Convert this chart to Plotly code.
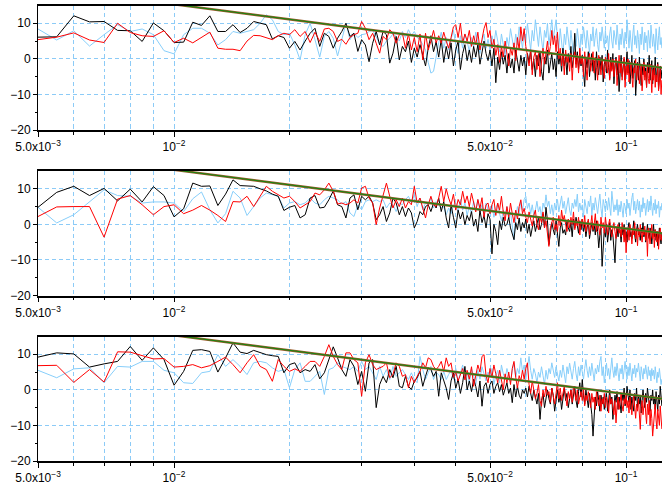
import plotly.graph_objects as go

# Spectral estimates at frequencies k/2000 (k = 10 .. 240), in dB
record_length = 2000
freq = [k / record_length for k in range(10, 241)]

# ---------------- panel 1 ----------------
p1_black = [
    6.1, 6.2, 12.1, 10.4, 10.5, 8.0, 7.9, 4.9, 10.1, 7.9,
    4.6, 4.7, 10.3, 9.4, 12.1, 7.7, 7.7, 9.6, 7.4, 8.6,
    10.5, 10.0, 9.6, 5.6, 6.5, 6.0, 3.0, 4.9, 2.5, 5.0,
    7.2, 8.6, 3.5, 7.2, 6.3, 3.0, 5.8, 7.7, 10.0, 6.3,
    7.2, 2.1, 5.4, 3.9, -0.8, 4.4, 7.7, 3.9, 7.7, 6.8,
    -1.2, 1.6, 6.3, -0.3, 3.5, 2.0, 5.0, -1.0, 3.0, 0.5,
    4.0, 1.0, -2.0, 3.0, 6.5, 2.0, 4.8, 0.5, 5.5, -1.0,
    3.5, 0.0, 4.5, -2.0, 2.5, 5.0, -3.0, 1.5, 4.0, -0.5,
    2.5, -1.0, 3.5, 0.5, 4.0, -1.5, 2.0, 5.0, 1.5, -0.5,
    2.5, -2.0, 3.0, -6.7, 0.5, -3.0, 2.0, -1.5, 1.0, -4.0,
    1.5, -2.5, 0.0, -4.0, 2.5, -1.0, -3.5, 1.0, -2.0, 0.5,
    -4.5, 1.5, -1.0, 2.5, -3.0, 0.0, -5.0, 1.0, -2.0, 2.0,
    -3.5, -6.0, 0.5, -1.5, 2.5, -4.0, -0.5, 1.5, -3.0, 0.0,
    -5.0, 2.0, -1.5, 1.0, -3.5, 3.0, -2.0, 0.5, -4.5, 1.5,
    -1.0, 3.5, -2.5, 0.0, 7.2, -1.5, 2.0, -3.0, 0.5, -2.0,
    1.0, -4.0, -7.8, 0.0, -2.5, 2.0, -5.0, -1.0, 1.5, -3.5,
    -0.5, -6.0, 2.0, -2.0, -4.5, 0.5, -3.0, 1.0, -6.5, -1.5,
    0.0, -4.0, 2.5, -2.5, -5.5, 0.5, -3.0, 1.5, -7.0, -2.0,
    0.5, -4.5, -1.0, -9.2, -3.0, 1.0, -5.0, -2.0, 0.0, -6.0,
    -1.5, 2.0, -4.0, -0.5, -7.0, -2.5, 1.0, -5.5, -3.0, -0.5,
    -10.3, -4.0, -1.0, -6.0, 0.5, -3.5, -7.5, -2.0, -4.5, 0.0,
    -5.0, -2.5, -8.0, -1.0, -4.0, 1.0, -6.0, -3.0, -0.5, -7.0,
    -2.0, -4.5, 0.5, -6.5, -3.0, -1.0, -8.5, -4.0, -2.0, -5.5,
    -3.0,
]
p1_red = [
    5.4, 6.1, 7.3, 5.3, 4.6, 10.0, 7.4, 6.5, 6.3, 7.9,
    4.6, 5.8, 4.5, 6.1, 7.5, 3.0, 2.7, 2.7, 2.3, 5.0,
    6.6, 6.5, 6.0, 5.4, 6.5, 7.2, 6.8, 8.2, 6.3, 7.7,
    4.6, 7.5, 4.9, 8.4, 8.6, 7.7, 4.9, 5.5, 4.1, 6.0,
    6.8, 7.2, 10.5, 8.6, 5.4, 7.2, 4.4, 1.6, 6.3, 5.4,
    8.2, 7.2, 4.4, 6.8, 7.2, 3.0, 7.0, 2.5, 6.0, 2.0,
    7.0, -0.3, 7.2, 2.5, 5.0, 8.0, 4.5, 6.5, 4.4, 7.5,
    5.0, 3.0, 6.0, 9.0, 9.6, 6.0, 10.0, 4.5, 7.0, 5.0,
    8.0, 3.5, 6.5, 4.0, 7.5, 2.5, 5.5, 8.5, 10.2, 6.0,
    8.0, 3.0, 5.5, 1.0, 4.0, -1.0, 3.5, 0.5, 5.0, 2.0,
    -2.0, 3.0, 1.0, 4.5, -0.5, 6.0, 2.5, 9.0, 5.0, 8.5,
    3.5, 1.0, -2.0, 2.5, -4.5, 0.5, 2.0, -3.0, 1.5, -5.0,
    0.0, 3.0, -1.5, 2.0, 5.0, 1.0, 3.5, 8.0, 4.0, 6.5,
    2.0, 7.5, 0.0, 3.0, -2.0, 1.5, -4.5, 2.5, -1.0, 0.5,
    -3.5, 1.5, -6.0, 0.0, 2.0, -2.5, 1.0, -4.0, 3.0, -1.5,
    0.5, -5.0, 2.0, -2.0, -6.0, 0.0, 1.5, -3.5, -1.0, 2.0,
    -4.0, 0.5, -2.5, -6.0, 1.0, -1.5, -4.5, 0.0, -3.0, -5.5,
    0.5, -2.0, -4.0, 1.5, -6.0, -1.0, -3.5, 0.0, -5.0, -2.0,
    0.0, -7.5, -2.5, 1.0, -4.0, -1.0, -6.0, -3.0, 0.5, -8.0,
    -2.0, -4.5, 0.0, -6.5, -3.0, -1.0, -5.0, -8.0, -2.5, -4.0,
    0.0, -6.0, -3.0, -1.5, -7.0, -4.0, -2.0, -9.0, -5.0, -1.0,
    -6.0, -3.5, -8.0, -2.0, -5.5, -7.0, -1.5, -4.0, -9.5, -3.0,
    -6.0, -2.0, -8.0, -4.5, -6.5, -1.5, -9.0, -5.0, -3.0, -10.0,
    -6.0,
]
p1_blue = [
    8.4, 5.3, 7.9, 3.6, 6.8, 9.6, 7.7, 8.4, 6.8, 2.3,
    1.4, 6.8, 8.6, 8.6, 7.2, 3.9, 5.4, 7.7, 7.2, 7.7,
    8.2, 10.0, 12.4, 11.0, 7.7, 6.8, 7.2, 3.9, -0.3, 6.8,
    10.0, 5.4, 0.5, 6.3, 7.7, 5.8, 0.8, 5.4, 10.0, 5.4,
    7.2, 6.0, 6.8, 7.0, 7.7, 8.0, 6.3, 4.0, 3.5, 5.0,
    5.8, 7.0, 6.3, 5.0, 7.7, 6.0, 8.2, 6.5, 7.7, 6.0,
    5.4, 4.0, 2.5, -1.0, -4.0, -3.5, 1.0, 4.5, 7.5, 3.0,
    6.0, 2.5, 5.5, 8.0, 4.0, 1.5, 6.5, 3.0, 7.0, 5.0,
    2.0, 6.0, 3.5, 7.5, 4.5, 1.5, 5.0, 7.0, 3.0, 5.5,
    2.5, 6.5, 4.0, 8.0, 5.0, 2.0, 7.0, 4.5, 1.0, 6.0,
    3.5, 8.5, 5.0, 2.5, 7.0, 4.0, 9.0, 6.0, 3.0, 7.5,
    4.5, 10.0, 6.5, 2.5, 8.0, 5.0, 11.0, 7.0, 3.5, 9.0,
    5.5, 2.0, 8.0, 6.0, 10.0, 4.0, 7.5, 11.0, 5.5, 8.0,
    11.0, 6.0, 3.0, 8.5, 5.0, 1.0, 7.0, 4.0, 9.0, 6.0,
    2.5, 8.0, 5.0, 0.7, 6.5, 3.5, 8.5, 5.5, 2.0, 7.0,
    4.0, 9.0, 6.0, 3.0, 8.0, 4.5, 1.5, 7.0, 5.0, 9.0,
    3.5, 6.5, 8.5, 4.0, 2.0, 7.5, 5.0, 9.0, 6.0, 3.0,
    8.0, 4.5, 6.5, 2.5, 7.0, 9.0, 5.0, 3.0, 8.0, 6.0,
    4.0, 9.5, 5.5, 2.5, 7.0, 4.0, 8.5, 6.0, 3.0, 7.5,
    5.0, 11.0, 6.5, 3.0, 8.0, 5.0, 2.0, 7.0, 9.5, 4.0,
    6.5, 3.0, 8.0, 5.5, 1.5, 7.0, 4.0, 9.0, 5.5, 2.5,
    7.5, 4.5, 6.5, 2.0, 8.0, 5.0, 3.0, 9.5, 6.0, 3.5,
    7.0, 4.0, 1.5, 8.5, 5.0, 2.5, 6.5, 9.0, 4.0, 6.0,
    3.0,
]

# ---------------- panel 2 ----------------
p2_black = [
    4.8, 9.0, 10.7, 8.1, 10.1, 6.6, 9.9, 6.3, 10.6, 8.1,
    2.1, 4.4, 11.6, 10.7, 10.8, 5.3, 8.5, 12.5, 10.9, 10.7,
    10.7, 10.0, 9.4, 8.5, 7.9, 3.9, 4.8, 5.3, 1.8, 2.7,
    7.4, 8.1, 4.6, 4.8, 6.9, 9.4, 5.5, 5.0, 1.8, 7.4,
    8.3, 4.1, 7.9, 6.9, 7.9, 6.0, 1.3, 2.7, 5.0, 0.8,
    3.2, 7.4, 6.0, 2.7, 5.0, 2.2, 4.6, 3.2, -1.0, 0.8,
    3.6, 2.7, 5.0, 5.5, 3.6, 6.0, 4.6, 7.4, 3.6, 6.4,
    1.8, -1.0, 5.5, 2.0, -1.0, 4.0, 1.5, 3.5, -0.1, 2.5,
    1.0, 3.6, -0.5, 1.5, -2.0, 4.0, 0.5, 2.5, -1.0, 3.0,
    1.5, -8.3, 0.0, -2.0, -5.7, 1.0, -1.5, 2.0, -0.5, 0.0,
    2.0, -1.0, -3.0, -4.3, 0.5, -1.5, 1.8, -2.0, 0.5, -1.0,
    1.5, -2.5, 0.0, -3.4, -1.0, 1.0, -2.0, 0.0, 2.0, -1.5,
    0.0, 3.0, -1.0, 4.8, 1.0, -5.7, -2.0, 0.5, -1.5, -3.0,
    1.0, -2.0, -6.2, -1.0, 0.5, -2.5, -1.5, -3.0, 1.0, -1.0,
    -2.0, 0.5, -3.5, 1.5, -1.0, 2.0, 0.0, -2.5, 1.0, -1.5,
    1.5, -2.0, 0.0, -3.5, -1.0, 1.0, -4.0, -1.5, 0.5, -2.0,
    0.0, -3.0, 1.0, -2.0, -6.6, -3.0, -1.0, -11.8, -4.0, -1.5,
    -3.5, 0.0, -5.0, -2.0, 0.5, -4.5, -1.5, -3.0, -6.0, -10.8,
    -4.0, -1.0, -3.5, 0.5, -2.0, -5.0, -1.0, -3.0, 0.0, -4.5,
    -2.0, -5.0, -1.0, 0.5, -3.5, -2.0, -4.0, -1.0, 1.0, -3.0,
    -5.0, -1.5, 0.0, -3.0, -2.0, -4.5, -1.0, -2.5, 0.5, -3.5,
    -1.5, -5.0, -2.0, 0.0, -3.0, -4.0, -1.0, -2.5, -5.5, -2.0,
    0.0, -3.5, -1.5, -4.5, -2.0, -6.0, -3.0, -1.0, -4.0, -5.5,
    -2.5,
]
p2_red = [
    2.2, 4.9, 5.0, 5.0, -3.6, 7.1, 8.1, 5.5, 2.7, 5.0,
    5.5, 3.0, 4.0, 5.3, 4.0, 2.5, 0.8, 6.4, 6.3, 7.9,
    5.0, 7.9, 10.7, 9.3, 8.3, 7.4, 7.9, 6.4, 4.6, 5.5,
    6.4, 8.8, 8.3, 9.7, 11.6, 9.3, 5.7, 6.0, 5.5, 6.0,
    6.9, 6.0, 10.2, 10.7, 7.4, 6.0, -0.1, 4.6, 8.3, 11.6,
    7.9, 4.6, 6.9, 5.0, 7.4, 4.6, 6.4, 5.5, 10.7, 6.0,
    7.4, 4.6, 1.8, 5.5, 7.9, 5.5, 5.0, 7.4, 10.7, 6.4,
    10.0, 7.4, 5.5, 8.5, 4.0, 7.0, 5.5, 9.3, 6.0, 8.0,
    5.0, 8.8, 6.5, 3.5, 7.0, 4.5, 7.5, 2.0, 5.5, 6.0,
    3.0, 5.5, 7.0, 2.5, 6.0, 4.0, 7.9, 3.5, 1.0, 5.0,
    2.0, 6.0, 3.0, 0.5, 4.0, 1.5, 5.0, 6.9, 3.0, 4.5,
    2.0, 0.5, 3.5, 1.0, -0.5, 2.5, 4.0, 0.0, -1.5, 2.0,
    0.5, 3.5, -1.0, 1.0, -2.9, -6.2, -1.0, 0.5, 2.0, -1.5,
    0.0, -2.0, 2.5, -0.5, 4.0, 1.0, 2.5, 0.0, -2.0, 1.5,
    -1.0, 2.0, 0.0, 3.5, -1.5, 1.0, -0.5, 2.0, -3.0, 0.5,
    1.5, -1.0, 2.5, -2.0, 0.0, 1.5, -3.0, 0.5, 2.5, -1.5,
    0.0, 3.0, -2.0, 1.0, -0.5, -3.0, 2.0, -1.0, 0.5, -2.5,
    2.0, -1.5, -3.0, 0.0, 1.5, -2.0, -3.5, -1.0, 0.5, -2.0,
    -4.0, -1.0, 0.0, -2.5, -1.5, -3.5, 0.5, -2.0, -5.0, -1.0,
    -8.0, -3.0, -1.0, -4.5, 0.0, -2.0, -5.5, -1.5, -3.0, 0.5,
    -4.0, -2.0, -6.0, -1.0, -3.5, 0.0, -2.5, -5.0, -1.5, -3.0,
    -0.5, -4.5, -2.0, -9.0, -1.0, -3.0, -5.5, -2.5, 0.0, -4.0,
    -2.0, -6.5, -1.5, -3.5, -5.0, -2.0, -7.0, -3.0, -1.0, -4.5,
    -3.0,
]
p2_blue = [
    4.8, 0.4, 2.7, 6.4, 9.7, 8.1, 7.9, 6.0, 6.3, 6.3,
    6.0, 3.6, 7.2, 9.1, 4.1, 0.4, 3.0, 9.3, 7.4, 2.5,
    5.0, 7.4, 8.8, 8.3, 7.9, 4.6, 6.0, 6.4, 5.5, 6.0,
    7.4, 6.0, 5.5, 6.9, 7.9, 7.4, 6.9, 5.7, 6.4, 3.2,
    2.2, 5.5, 4.1, 6.4, 6.9, 6.4, 6.9, 6.4, 6.9, 4.6,
    6.0, 5.5, 3.6, 6.0, 5.5, 6.9, 7.9, 6.0, 8.3, 5.0,
    7.4, 4.1, 6.0, 5.5, 7.4, 4.6, 6.4, 5.5, 4.6, 5.0,
    2.7, 4.6, 3.0, 5.5, 6.0, 3.5, 7.0, 4.0, 6.0, 2.5,
    5.0, 3.0, 6.5, 4.0, 7.0, 3.5, 5.5, 2.5, 6.0, 4.0,
    3.0, 5.5, 2.0, 4.5, 6.0, 3.0, 1.0, 4.0, 2.5, 5.0,
    1.5, 3.5, 0.0, -4.3, 2.0, 5.0, 3.0, 6.5, 4.0, 7.0,
    7.9, 4.5, 6.0, 3.0, 5.5, 2.5, 4.0, 6.5, 3.5, 5.0,
    2.0, 6.0, 4.5, 8.3, 5.0, 6.5, 3.0, 5.5, 2.5, 6.0,
    4.0, 7.0, 3.5, 6.0, 8.0, 4.5, 6.5, 3.0, 5.5, 7.5,
    4.0, 2.5, 6.0, 4.5, 7.0, 5.0, 8.5, 3.5, 6.0, 4.0,
    5.5, 2.0, 7.0, 4.5, 3.0, 6.5, 5.0, 8.0, 2.5, 6.0,
    4.0, 7.5, 5.0, 3.0, 6.0, 8.5, 4.5, 2.0, 7.0, 5.5,
    3.5, 6.5, 4.0, 7.5, 5.0, 2.5, 9.3, 6.0, 3.5, 5.5,
    4.0, 7.0, 2.5, 5.5, 3.5, 6.5, 4.5, 2.0, 6.0, 5.0,
    3.0, 7.0, 4.5, 6.0, 2.5, 5.5, 7.5, 8.8, 4.0, 6.5,
    3.0, 5.0, 7.0, 4.0, 6.5, 2.0, 5.5, 3.5, 7.5, 4.5,
    6.0, 2.5, 5.0, 7.0, 3.5, 6.5, 4.0, 8.0, 5.0, 2.5,
    6.0, 4.0, 7.0, 3.0, 5.5, 4.5, 6.5, 2.0, 5.0, 4.0,
    6.0,
]

# ---------------- panel 3 ----------------
p3_black = [
    9.2, 10.4, 10.1, 6.4, 7.3, 8.0, 12.2, 8.3, 11.8, 8.5,
    1.3, 5.2, 11.1, 11.3, 10.8, 5.0, 9.0, 13.2, 10.6, 10.2,
    11.1, 10.4, 9.9, 9.6, 9.4, 4.8, 7.1, 7.6, 4.8, 5.7,
    5.2, 7.1, 3.1, 4.8, 8.5, 12.1, 9.0, 5.7, 3.8, 8.5,
    6.6, 1.5, 5.2, -0.4, 7.6, 8.5, -5.0, 1.5, 3.8, 2.0,
    5.7, 3.4, 6.6, 1.0, 0.6, 3.8, 1.0, 0.1, 2.4, 3.4,
    5.2, 1.0, 3.8, 6.2, 5.7, 3.8, 5.2, -1.8, 4.8, 2.9,
    0.5, -2.7, 2.5, 4.8, 0.5, 3.0, -1.0, 2.0, 6.6, 0.0,
    2.5, -0.5, 3.0, 1.0, -2.0, 2.5, -4.6, 1.0, 2.0, -1.0,
    1.5, 2.5, -1.0, 1.0, 2.0, -0.5, 1.5, -1.5, 0.5, 2.0,
    -1.0, 0.5, -3.6, 1.5, -2.0, 1.0, -1.5, -2.5, 0.0, -1.0,
    0.5, -2.0, 1.0, -1.5, -3.0, 0.0, -2.0, -4.0, -1.0, -8.3,
    -3.0, -1.0, -5.0, -2.0, 0.0, -2.5, -4.0, 0.5, -1.5, -6.0,
    -2.5, 0.0, -3.5, -1.5, -5.5, -2.0, 0.5, -3.0, -1.0, -5.0,
    -2.0, 0.0, -4.0, -1.5, 1.0, -3.0, -5.0, -0.5, 2.0, -2.0,
    2.9, -1.5, -4.0, 0.0, -2.5, -5.0, -1.0, -3.5, -7.0, -13.0,
    -5.0, -2.0, -4.5, -0.5, -3.0, -6.0, -1.5, -4.0, -2.0, -5.5,
    -3.0, -1.0, -6.0, -2.5, 0.0, -4.0, -2.0, -8.3, -5.0, -1.5,
    -3.5, -0.5, -5.5, -2.0, -4.0, -6.5, -1.0, -3.0, 0.5, -4.5,
    -2.5, 1.0, -1.5, -3.5, 0.0, -5.5, -2.0, -4.0, -6.0, -1.0,
    -3.0, 0.5, -5.0, -2.0, -4.0, -1.5, -6.5, -3.0, 0.0, -2.5,
    -5.0, -1.0, -3.5, 0.5, -2.0, -4.5, -6.0, -1.5, -3.0, 0.0,
    -4.0, -2.0, -5.5, -0.5, -3.0, -6.0, -1.5, -4.0, 1.0, -2.5,
    -4.5,
]
p3_red = [
    6.8, 6.9, 2.1, 5.7, 2.2, 10.7, 10.6, 9.6, 8.7, 8.8,
    6.4, 6.6, 7.1, 6.2, 6.8, 8.0, 9.2, 7.1, 4.8, 7.6,
    9.9, 6.6, 5.7, 2.4, 8.5, 6.6, 5.2, 5.9, 5.2, 6.6,
    8.0, 8.0, 6.6, 9.4, 12.7, 9.4, 7.1, 5.7, 10.4, 10.4,
    8.5, 7.6, -1.8, 7.6, 9.9, 7.1, 5.7, 6.2, 6.6, 7.6,
    3.4, 4.3, 7.6, 6.6, 3.8, 4.3, 0.6, 3.8, 2.0, 3.8,
    5.2, 7.6, 6.2, 9.0, 8.5, 6.6, 5.7, 6.6, 8.0, 5.2,
    9.0, 6.6, 7.6, 3.5, 5.0, 2.5, 4.0, 6.0, 2.8, 5.5,
    3.0, 6.5, 1.0, 4.5, 7.0, 5.0, 9.4, 9.9, 4.0, 2.0,
    6.0, 3.5, 7.0, 4.5, 2.0, 5.5, 3.0, 0.0, 4.5, 2.0,
    5.0, 1.5, 6.0, 8.0, 3.5, 0.5, 4.0, 2.5, 5.5, 3.0,
    6.0, 7.6, 1.5, -1.0, 2.5, 0.0, -2.5, -1.0, 1.5, -3.0,
    -4.6, 0.0, -2.0, 1.0, -1.5, -0.5, -3.5, 0.5, -2.0, -4.0,
    -1.0, 2.0, -2.5, 0.5, -3.0, -1.0, 1.0, -2.0, -4.5, -0.5,
    -2.5, 0.0, -3.5, 1.0, -1.5, -3.0, 0.0, -4.0, -2.0, -0.5,
    -3.0, 0.5, -4.5, -1.5, -3.0, -0.5, -2.5, -5.0, -1.0, -3.5,
    -2.0, -5.5, -0.5, -3.0, -4.5, -1.5, -6.0, -2.5, -4.0, -1.0,
    -5.0, -2.0, -3.5, -6.5, -1.5, -4.0, -2.5, -5.0, -7.0, -3.0,
    -9.3, -4.5, -2.0, -5.5, -3.0, -1.0, -4.5, -6.0, -2.5, -4.0,
    -1.5, -5.0, -3.0, -6.5, -2.0, -4.5, -7.0, -3.5, -1.5, -5.0,
    -8.0, -4.0, -6.0, -2.5, -9.0, -11.1, -5.0, -3.0, -7.0, -4.5,
    -2.0, -6.5, -9.5, -4.0, -7.0, -3.0, -10.0, -5.5, -8.0, -13.0,
    -9.0, -6.0, -4.0, -8.5, -11.0, -5.5, -7.5, -10.0, -4.5, -9.0,
    -11.0,
]
p3_blue = [
    5.5, 3.4, 5.9, 6.2, 2.0, 6.6, 6.4, 8.0, 8.0, 5.5,
    4.8, 2.0, 1.8, 4.8, 5.2, 9.9, 6.6, 8.5, 6.6, 4.3,
    7.6, 8.0, 7.6, 6.2, 5.2, 5.7, 0.6, 5.7, 7.6, 2.4,
    2.4, 3.8, 5.2, -1.3, 5.7, 6.2, 7.6, 6.6, 6.2, 5.7,
    6.6, 5.2, 8.0, 5.7, 6.6, 4.8, 2.9, 6.6, 3.8, 5.7,
    2.9, 6.6, 3.8, 4.8, 5.7, 4.3, 2.9, 4.8, 2.9, 2.0,
    9.4, 5.7, 2.9, 4.8, 6.6, 2.9, 4.8, 4.3, 2.9, 5.2,
    2.9, 4.3, 5.5, 3.0, 6.0, 2.5, 4.5, 7.0, 3.5, 5.0,
    2.0, 6.0, 4.0, 1.5, 5.5, 3.0, 6.5, 4.5, 2.5, 5.0,
    3.5, 6.0, 1.5, 4.0, 5.5, 2.0, 7.0, 4.5, 3.0, 6.0,
    4.0, 2.0, 5.5, 7.5, 3.5, 6.0, 4.5, 9.0, 5.0, 7.0,
    3.0, 6.5, 9.4, 5.5, 3.0, 6.0, 4.5, 2.0, 5.0, 3.5,
    6.5, 4.0, 1.5, 5.5, 3.0, 6.0, 4.5, 7.6, 5.0, 3.5,
    6.5, 4.0, 2.5, 5.5, 3.5, 7.0, 5.0, 2.0, 6.5, 4.5,
    7.5, 5.0, 3.0, 6.0, 8.0, 4.5, 2.5, 6.5, 4.0, 7.0,
    5.0, 3.0, 6.0, 8.5, 5.5, 3.5, 6.5, 4.0, 7.5, 5.0,
    2.5, 6.0, 4.5, 7.0, 5.0, 8.0, 9.4, 4.0, 6.5, 2.0,
    5.5, 7.5, 4.0, 6.0, 3.0, 7.0, 9.0, 5.5, 3.5, 6.5,
    4.0, 7.5, 5.0, 2.5, 6.0, 4.5, 7.0, 3.0, 5.5, 8.0,
    5.0, 3.0, 6.5, 4.0, 7.5, 5.5, 2.5, 6.0, 4.5, 7.0,
    3.5, 6.0, 5.0, 7.5, 4.0, 2.5, 6.5, 5.0, 3.0, 6.0,
    4.5, 7.0, 5.5, 3.0, 6.5, 4.0, 5.5, 2.5, 6.0, 4.0,
    5.5, 3.0, 6.5, 4.5, 2.0, 5.0, 3.5, 6.0, 4.0, 1.5,
    3.0,
]

# Fitted (power-law) reference spectrum, dB
fit_freq = [0.005, 0.1201]
fit_db = [20.3, -2.5]

panels = [
    (p1_black, p1_red, p1_blue),
    (p2_black, p2_red, p2_blue),
    (p3_black, p3_red, p3_blue),
]
for trio in panels:
    for s in trio:
        assert len(s) == len(freq), len(s)

# tick labels
x_major_vals = [0.005, 0.01, 0.05, 0.1]
x_major_text = ["5.0x10<sup>\u22123</sup>", "10<sup>\u22122</sup>",
                "5.0x10<sup>\u22122</sup>", "10<sup>\u22121</sup>"]
x_minor_vals = [0.006, 0.007, 0.008, 0.009,
                0.018, 0.026, 0.034, 0.042,
                0.06, 0.07, 0.08, 0.09]
y_major_vals = [-20, -10, 0, 10]
y_minor_vals = [-15, -5, 5]

H = 489.0
# panel top/bottom pixel rows
panel_px = [(5.5, 130.0), (171.0, 295.5), (336.5, 461.0)]

grid_col = "#8ccbf7"
font = dict(family="Liberation Sans, Arial, Helvetica, sans-serif", size=12, color="black")

fig = go.Figure()
layout = dict(
    width=662, height=489,
    margin=dict(l=38, r=0, t=0, b=0),
    paper_bgcolor="white", plot_bgcolor="white",
    showlegend=False, font=font,
)

for i, (blk, red, blu) in enumerate(panels):
    n = "" if i == 0 else str(i + 1)
    xa, ya = "x" + n, "y" + n
    fig.add_trace(go.Scatter(x=freq, y=blu, mode="lines", xaxis=xa, yaxis=ya,
                             line=dict(color="#87cefa", width=1)))
    fig.add_trace(go.Scatter(x=freq, y=blk, mode="lines", xaxis=xa, yaxis=ya,
                             line=dict(color="black", width=1)))
    fig.add_trace(go.Scatter(x=freq, y=red, mode="lines", xaxis=xa, yaxis=ya,
                             line=dict(color="#ff0000", width=1)))
    fig.add_trace(go.Scatter(x=fit_freq, y=fit_db, mode="lines", xaxis=xa, yaxis=ya,
                             line=dict(color="#9a5a2a", width=2.4)))
    fig.add_trace(go.Scatter(x=fit_freq, y=fit_db, mode="lines", xaxis=xa, yaxis=ya,
                             line=dict(color="#118811", width=1)))
    top, bot = panel_px[i]
    layout["xaxis" + n] = dict(
        type="log", range=[-2.30103, -0.92053], domain=[0, 1], anchor=ya,
        tickmode="array", tickvals=x_major_vals, ticktext=x_major_text,
        ticks="outside", ticklen=5, tickcolor="black", tickwidth=1,
        showline=True, linecolor="black", linewidth=1.5, mirror=True,
        showgrid=True, gridcolor=grid_col, gridwidth=1, griddash="4px,3px",
        minor=dict(tickmode="array", tickvals=x_minor_vals, ticks="outside",
                   ticklen=3, tickcolor="black", showgrid=True,
                   gridcolor=grid_col, gridwidth=1, griddash="4px,3px"),
        zeroline=False, automargin=False, tickfont=font,
    )
    layout["yaxis" + n] = dict(
        range=[-20, 15], domain=[1 - bot / H, 1 - top / H], anchor=xa,
        tickmode="array", tickvals=y_major_vals,
        ticks="outside", ticklen=4, tickcolor="black",
        showline=True, linecolor="black", linewidth=1, mirror=False,
        showgrid=True, gridcolor=grid_col, gridwidth=1, griddash="4px,3px",
        minor=dict(tickmode="array", tickvals=y_minor_vals, ticks="outside",
                   ticklen=2, tickcolor="black", showgrid=False),
        zeroline=False, automargin=False, tickfont=font,
    )

fig.update_layout(**layout)
fig.write_html(
    "out.html",
    config={"displayModeBar": False},
    post_script="document.body.style.margin='0';document.body.style.overflow='hidden';",
)
